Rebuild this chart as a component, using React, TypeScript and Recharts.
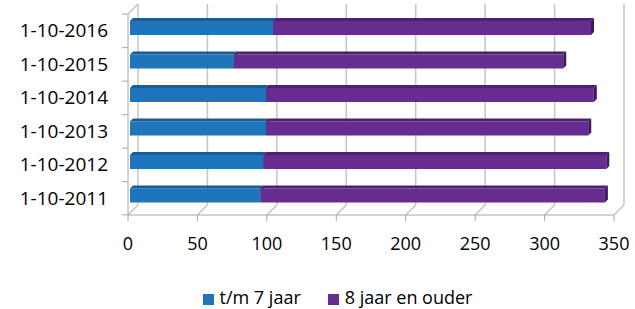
import * as React from "react"
import { BarChart, Bar, XAxis, YAxis, CartesianGrid, Legend } from "recharts"

const dates = ["1-10-2016", "1-10-2015", "1-10-2014", "1-10-2013", "1-10-2012", "1-10-2011"]
const tm7 = [103, 75, 98, 98, 96, 94]
const ouder = [229, 237, 236, 232, 247, 248]
const xTicks = [0, 50, 100, 150, 200, 250, 300, 350]
const seriesOrder = ["tm7", "ouder"]

const data = dates.map((d, i) => ({ date: d, tm7: tm7[i], ouder: ouder[i] }))

const W = 635
const H = 309
const TOP = 14
const YAXIS_W = 128
const XAXIS_H = 70
const PLOT_H = 199
const DEPTH = 10
const FONT = '"Open Sans", sans-serif'
const AXIS = "#a6a6a6"
const GRID = "#c4c4c4"

// 3d-ish bar: front face + top face + right side
const bar3d = (front: string, top: string, side: string) => (props: any) => {
  const { x, y, width, height } = props
  if (!width || width <= 0) return <g />
  const X = x + 2
  const Y = y - 3
  const d = 3
  return (
    <g>
      <rect x={X} y={Y} width={width} height={height} fill={front} />
      <polygon points={`${X},${Y} ${X + d},${Y - d} ${X + width + d},${Y - d} ${X + width},${Y}`} fill={top} />
      <polygon
        points={`${X + width},${Y} ${X + width + d},${Y - d} ${X + width + d},${Y + height - d} ${X + width},${Y + height}`}
        fill={side}
      />
    </g>
  )
}

// gridlines sit on the back wall, with a floor line back to the front axis
const backGrid = (p: any) => (
  <g key={`g-${p.index}-${p.x1}`}>
    <line x1={p.x1 + DEPTH} y1={p.y1 - DEPTH} x2={p.x2 + DEPTH} y2={p.y2 - DEPTH} stroke={GRID} strokeWidth={1.5} />
    <line x1={p.x2} y1={p.y2} x2={p.x2 + DEPTH} y2={p.y2 - DEPTH} stroke={GRID} strokeWidth={1.5} />
    {p.x1 <= YAXIS_W + 1 && (
      <line x1={p.x1} y1={p.y1} x2={p.x1 + DEPTH} y2={p.y1 - DEPTH} stroke={GRID} strokeWidth={1.5} />
    )}
  </g>
)

const YTick = (props: any) => {
  const { y, payload, index } = props
  const band = PLOT_H / dates.length
  return (
    <g>
      <line x1={YAXIS_W - 6} y1={y - band / 2} x2={YAXIS_W} y2={y - band / 2} stroke={AXIS} />
      {index === dates.length - 1 && (
        <line x1={YAXIS_W - 6} y1={y + band / 2} x2={YAXIS_W} y2={y + band / 2} stroke={AXIS} />
      )}
      <text x={YAXIS_W - 20} y={y} dy="0.35em" textAnchor="end" fill="#000" fontSize={19} fontFamily={FONT}>
        {payload.value}
      </text>
    </g>
  )
}

export default function App() {
  return (
    <div style={{ position: "absolute", left: 0, top: 0, fontFamily: FONT }}>
      <BarChart
        width={W}
        height={H}
        data={data}
        layout="vertical"
        margin={{ top: TOP, right: 21, bottom: 0, left: 0 }}
        barCategoryGap={0}
      >
        <CartesianGrid horizontal={false} vertical={backGrid} />
        <XAxis
          type="number"
          domain={[0, 350]}
          ticks={xTicks}
          height={XAXIS_H}
          axisLine={{ stroke: AXIS }}
          tickLine={{ stroke: AXIS }}
          tickSize={6}
          tickMargin={16}
          tick={{ fill: "#000", fontSize: 18, fontFamily: FONT }}
        />
        <YAxis
          type="category"
          dataKey="date"
          width={YAXIS_W}
          axisLine={{ stroke: AXIS }}
          tickLine={false}
          tick={<YTick />}
        />
        <Legend
          verticalAlign="bottom"
          iconType="square"
          iconSize={11}
          itemSorter={(item: any) => seriesOrder.indexOf(item.dataKey)}
          wrapperStyle={{ left: 44, fontSize: 18 }}
          formatter={(v: string) => (
            <span style={{ color: "#000", marginLeft: 2, marginRight: 17 }}>{v}</span>
          )}
        />
        <Bar
          dataKey="tm7"
          name="t/m 7 jaar"
          stackId="a"
          barSize={14}
          fill="#1F75BC"
          shape={bar3d("#1F75BC", "#1A5C96", "#174f82")}
          isAnimationActive={false}
        />
        <Bar
          dataKey="ouder"
          name="8 jaar en ouder"
          stackId="a"
          barSize={14}
          fill="#662C90"
          shape={bar3d("#662C90", "#4E2170", "#3E1A5A")}
          isAnimationActive={false}
        />
      </BarChart>
    </div>
  )
}
